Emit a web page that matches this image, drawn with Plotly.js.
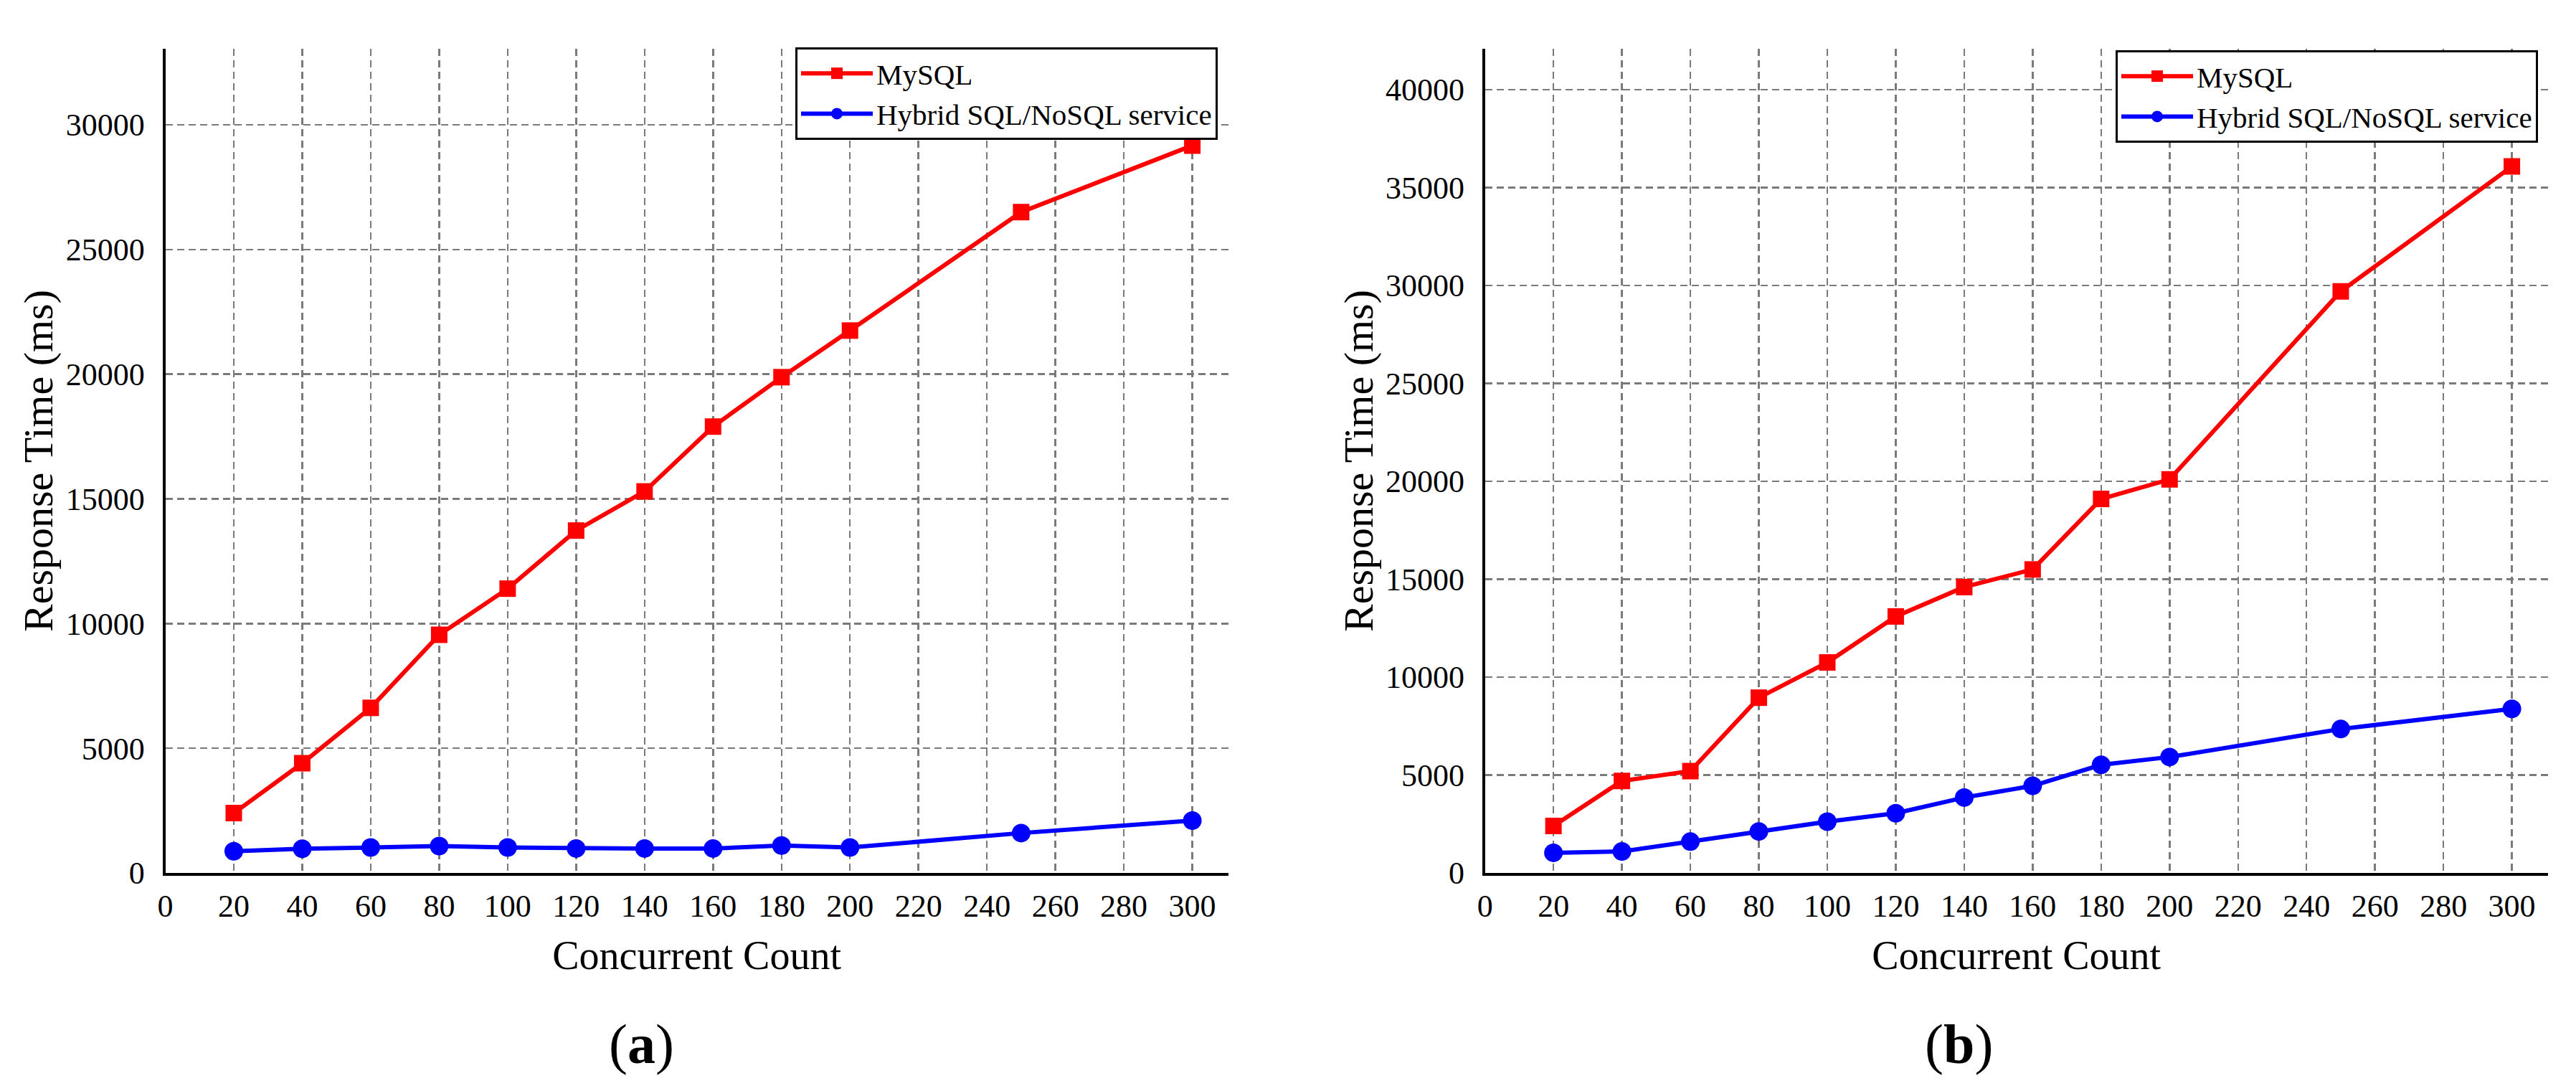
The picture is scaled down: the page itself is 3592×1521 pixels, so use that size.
<!DOCTYPE html>
<html>
<head>
<meta charset="utf-8">
<script src="https://cdn.plot.ly/plotly-3.0.1.min.js"></script>
<style>
  html, body { margin: 0; padding: 0; background: #fff; }
  #chart { width: 3592px; height: 1521px; }
</style>
</head>
<body>
<div id="chart"></div>
<script>
"use strict";

// concurrent counts (x)
const COUNTS = [20, 40, 60, 80, 100, 120, 140, 160, 180, 200, 250, 300];

// (a) response time, ms
const MYSQL_A = [2400, 4400, 6620, 9550, 11400, 13730, 15300, 17900, 19880, 21750, 26500, 29170];
const HYBRID_A = [870, 970, 1020, 1080, 1020, 980, 980, 980, 1100, 1020, 1600, 2100];

// (b) response time, ms
const MYSQL_B = [2400, 4700, 5200, 8950, 10750, 13100, 14600, 15500, 19100, 20100, 29700, 36080];
const HYBRID_B = [1030, 1100, 1600, 2120, 2620, 3050, 3850, 4450, 5520, 5920, 7350, 8380];

const X_TICKS = [0, 20, 40, 60, 80, 100, 120, 140, 160, 180, 200, 220, 240, 260, 280, 300];
const Y_TICKS_A = [0, 5000, 10000, 15000, 20000, 25000, 30000];
const Y_TICKS_B = [0, 5000, 10000, 15000, 20000, 25000, 30000, 35000, 40000];

const SERIES_NAMES = ["MySQL", "Hybrid SQL/NoSQL service"];
const PANEL_LABELS = ["(<b>a</b>)", "(<b>b</b>)"];

const W = 3592, H = 1521;
const FONT = "Liberation Serif";

function mysqlTrace(y, xa, ya, leg) {
  return {
    x: COUNTS, y: y, xaxis: xa, yaxis: ya, legend: leg,
    name: SERIES_NAMES[0], mode: "lines+markers",
    line: { color: "#ff0000", width: 6 },
    marker: { symbol: "square", size: 23, color: "#ff0000" },
  };
}

function hybridTrace(y, xa, ya, leg) {
  return {
    x: COUNTS, y: y, xaxis: xa, yaxis: ya, legend: leg,
    name: SERIES_NAMES[1], mode: "lines+markers",
    line: { color: "#0000ff", width: 6 },
    marker: { symbol: "circle", size: 26, color: "#0000ff" },
  };
}

function xAxis(domain, anchor) {
  return {
    domain: domain, anchor: anchor, range: [0, 310.5],
    tickvals: X_TICKS, ticks: "", ticklabelstandoff: 4,
    showline: true, linewidth: 4, linecolor: "#000",
    showgrid: true, gridcolor: "#7a7a7a", gridwidth: 2.5, griddash: "10px,6px",
    zeroline: false, tickfont: { size: 44, color: "#000" },
    title: { text: "Concurrent Count", font: { size: 56, color: "#000" }, standoff: 26 },
  };
}

function yAxis(domain, anchor, top, ticks) {
  return {
    domain: domain, anchor: anchor, range: [0, top],
    tickvals: ticks, tickformat: "d", ticks: "", ticklabelstandoff: 16,
    showline: true, linewidth: 4, linecolor: "#000",
    showgrid: true, gridcolor: "#7a7a7a", gridwidth: 2.5, griddash: "10px,6px",
    zeroline: false, tickfont: { size: 44, color: "#000" },
    title: { text: "Response Time (ms)", font: { size: 58, color: "#000" }, standoff: 0 },
  };
}

const yDom = [1 - 1217 / H, 1 - 68 / H];

const data = [
  mysqlTrace(MYSQL_A, "x", "y", "legend"),
  hybridTrace(HYBRID_A, "x", "y", "legend"),
  mysqlTrace(MYSQL_B, "x2", "y2", "legend2"),
  hybridTrace(HYBRID_B, "x2", "y2", "legend2"),
];

function legendAt(xr, yt) {
  return {
    x: xr / W, xanchor: "right", y: 1 - yt / H, yanchor: "top",
    bgcolor: "#fff", bordercolor: "#000", borderwidth: 3,
    font: { size: 41, color: "#000" }, itemwidth: 100, tracegroupgap: 0,
  };
}

const layout = {
  width: W, height: H,
  margin: { l: 0, r: 0, t: 0, b: 0 },
  paper_bgcolor: "#fff", plot_bgcolor: "#fff",
  font: { family: FONT, color: "#000" },
  xaxis: xAxis([230.5 / W, 1712.7 / W], "y"),
  yaxis: yAxis(yDom, "x", 33050, Y_TICKS_A),
  xaxis2: xAxis([2070.7 / W, 3552.7 / W], "y2"),
  yaxis2: yAxis(yDom, "x2", 42090, Y_TICKS_B),
  legend: legendAt(1698, 66),
  legend2: legendAt(3539, 70),
  annotations: [
    { text: PANEL_LABELS[0], xref: "paper", yref: "paper", x: 894 / W, y: 1 - 1455 / H,
      xanchor: "center", yanchor: "middle", showarrow: false, font: { size: 78, color: "#000" } },
    { text: PANEL_LABELS[1], xref: "paper", yref: "paper", x: 2731 / W, y: 1 - 1455 / H,
      xanchor: "center", yanchor: "middle", showarrow: false, font: { size: 78, color: "#000" } },
  ],
};

Plotly.newPlot("chart", data, layout, { staticPlot: true });
</script>
</body>
</html>
